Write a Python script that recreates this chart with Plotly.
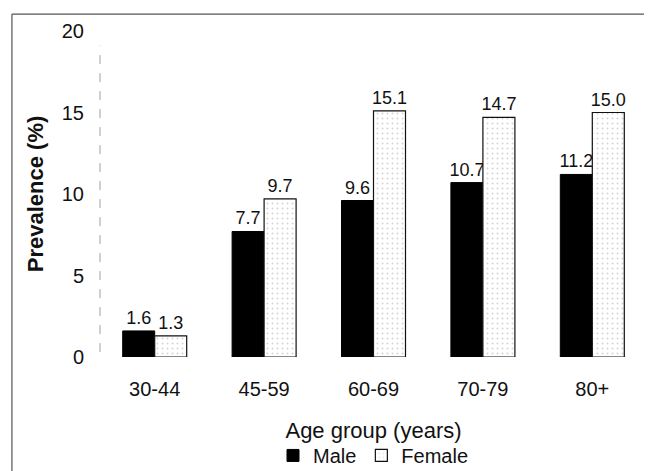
import plotly.graph_objects as go

categories = ["30-44", "45-59", "60-69", "70-79", "80+"]
male = [1.6, 7.7, 9.6, 10.7, 11.2]
female = [1.3, 9.7, 15.1, 14.7, 15.0]
y_ticks = [0, 5, 10, 15, 20]

FONT = "Liberation Sans, Arial, sans-serif"

fig = go.Figure()
fig.add_trace(go.Bar(
    x=categories, y=male, name="Male",
    marker=dict(color="#000000", line=dict(color="#000000", width=1)),
    text=[f"{v:.1f}" for v in male], textposition="outside", constraintext="none",
    textfont=dict(size=18, color="#111111", family=FONT),
    cliponaxis=False,
))
fig.add_trace(go.Bar(
    x=categories, y=female, name="Female",
    marker=dict(color="#ffffff", line=dict(color="#111111", width=1.2),
                pattern=dict(shape=".", fgcolor="#a8a8a8", bgcolor="#ffffff",
                             size=5, solidity=0.12)),
    text=[f"{v:.1f}" for v in female], textposition="outside", constraintext="none",
    textfont=dict(size=18, color="#111111", family=FONT),
    cliponaxis=False,
))

# the page adds an 8px body margin, so the figure is 8px smaller each way
fig.update_layout(
    width=644, height=463,
    margin=dict(l=92, r=5, t=23, b=114, autoexpand=False),
    paper_bgcolor="white", plot_bgcolor="white",
    barmode="group", bargap=0.415, bargroupgap=0,
    font=dict(family=FONT, color="#111111"),
    showlegend=True,
    legend=dict(orientation="h", x=0.5, xanchor="center", y=-0.302, yanchor="middle",
                font=dict(size=20, family=FONT), itemwidth=30,
                bgcolor="rgba(0,0,0,0)"),
    xaxis=dict(
        automargin=False,
        showgrid=False, zeroline=False, showline=False,
        ticks="", tickfont=dict(size=20, family=FONT),
        ticklabelstandoff=18,
        title=dict(text="Age group (years)", font=dict(size=22, family=FONT), standoff=23),
    ),
    yaxis=dict(
        automargin=False,
        range=[0, 20], tickvals=y_ticks,
        showgrid=False, zeroline=False, showline=False,
        ticks="", tickfont=dict(size=20, family=FONT),
        ticklabelstandoff=15,
        title=dict(text="<b>Prevalence (%)</b>", font=dict(size=22, family=FONT), standoff=12),
    ),
    shapes=[
        # dashed y-axis line
        dict(type="line", xref="paper", yref="y", x0=0, x1=0, y0=0.3, y1=19.1,
             line=dict(color="#a0a0a0", width=1, dash="dash")),
        # frame: top and left border
        dict(type="line", xref="paper", yref="paper", x0=-0.161, x1=1.01, y0=1.052, y1=1.052,
             line=dict(color="#555555", width=1.2)),
        dict(type="line", xref="paper", yref="paper", x0=-0.161, x1=-0.161, y0=1.052, y1=-0.36,
             line=dict(color="#555555", width=1.2)),
    ],
)

fig.write_html("out.html")
